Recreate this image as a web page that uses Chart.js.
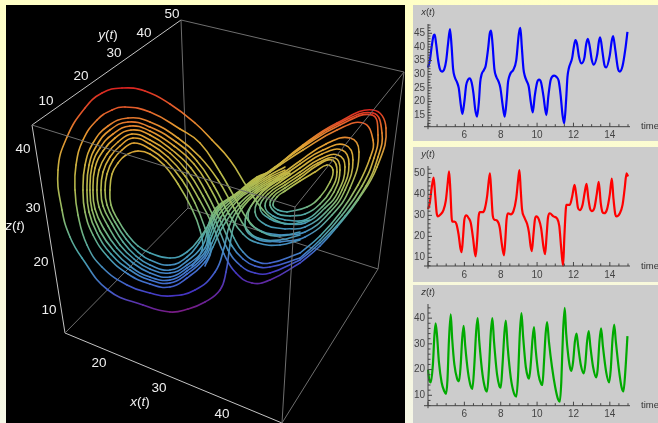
<!DOCTYPE html>
<html>
<head>
<meta charset="utf-8">
<title>Lorenz attractor</title>
<script src="https://cdn.jsdelivr.net/npm/chart.js@4/dist/chart.umd.min.js"></script>
<style>
html, body { margin: 0; padding: 0; width: 658px; height: 423px; overflow: hidden; }
body { background: linear-gradient(#ffffc6, #f5f6e6); position: relative; }
.box { position: absolute; }
.box canvas { display: block; }
#attractorBox { left: 6px; top: 5px; width: 399px; height: 418px; background: #000; }
#xBox { left: 413px; top: 5px; width: 245px; height: 136px; background: #ccc; }
#yBox { left: 413px; top: 147px; width: 245px; height: 135px; background: #ccc; }
#zBox { left: 413px; top: 285px; width: 245px; height: 138px; background: #ccc; }
</style>
</head>
<body>
<div class="box" id="attractorBox"><canvas id="attractorChart" width="399" height="418"></canvas></div>
<div class="box" id="xBox"><canvas id="xChart" width="245" height="136"></canvas></div>
<div class="box" id="yBox"><canvas id="yChart" width="245" height="135"></canvas></div>
<div class="box" id="zBox"><canvas id="zChart" width="245" height="138"></canvas></div>
<script>
// time series: [t, value]
var xSeries = [[4,32.5],[4.1,35],[4.2,40],[4.3,44],[4.37,44.5],[4.45,41],[4.55,35.5],[4.65,32],[4.77,31],[4.9,32],[5,35],[5.1,41],[5.21,46.5],[5.3,40],[5.38,32],[5.47,29],[5.6,27],[5.69,25],[5.8,19],[5.89,15.5],[6,20],[6.1,26],[6.2,28],[6.29,28.5],[6.4,27],[6.5,23],[6.6,17],[6.7,14.5],[6.8,20],[6.87,27],[6.95,30],[7.07,31.5],[7.17,33],[7.3,39],[7.4,45],[7.47,46],[7.55,41],[7.65,32],[7.76,29],[7.87,27.5],[7.98,25],[8.1,19],[8.22,14.5],[8.33,21],[8.4,27],[8.46,29],[8.55,30.5],[8.68,31.5],[8.85,35],[9,45],[9.08,47],[9.16,40],[9.25,32],[9.32,29.5],[9.43,27.5],[9.54,25.5],[9.65,20],[9.76,16],[9.87,22],[10,27],[10.11,28],[10.22,27],[10.35,22],[10.51,15],[10.62,22],[10.75,28],[10.94,29.5],[11.07,29],[11.19,27.5],[11.3,22],[11.4,15],[11.49,12],[11.6,21],[11.67,29],[11.74,32],[11.93,36],[12.02,40],[12.11,42.5],[12.2,41],[12.3,36.5],[12.44,34],[12.6,36],[12.7,41],[12.79,43],[12.9,40],[13,35.5],[13.12,33.5],[13.3,37],[13.4,42],[13.47,43.5],[13.6,38],[13.7,33.5],[13.8,32.5],[14,37],[14.1,42],[14.18,44],[14.3,39],[14.45,32],[14.55,31],[14.7,33],[14.85,39],[14.97,45.5]];
var ySeries = [[4,33],[4.1,36],[4.2,43],[4.31,48],[4.4,39],[4.48,31],[4.55,29.5],[4.7,30.5],[4.85,32.5],[4.98,37],[5.08,45],[5.16,51],[5.23,42],[5.3,29],[5.34,27],[5.45,27],[5.56,26],[5.68,21],[5.78,14.5],[5.85,12.5],[5.93,20],[6,28],[6.11,30],[6.25,28.5],[6.35,26.5],[6.48,19],[6.56,13],[6.62,10.5],[6.7,18],[6.78,29],[6.84,31.5],[7,31.5],[7.12,33],[7.25,39],[7.35,47],[7.41,50],[7.48,41],[7.56,30],[7.65,28],[7.8,27.5],[7.95,24],[8.05,17],[8.18,11],[8.25,18],[8.32,28],[8.4,31],[8.55,30.5],[8.7,32],[8.85,38],[8.97,48],[9.03,51.5],[9.1,42],[9.17,33],[9.3,29],[9.45,26],[9.55,22],[9.65,15],[9.71,13],[9.8,21],[9.88,28],[9.96,29.5],[10.1,28],[10.22,24],[10.35,15],[10.44,11.5],[10.52,20],[10.6,29],[10.7,31],[10.9,29.5],[11.1,28.5],[11.22,25],[11.32,15],[11.43,6],[11.5,20],[11.58,33],[11.61,35],[11.8,35],[11.93,39],[12.06,44.5],[12.15,40],[12.25,33.5],[12.35,32.5],[12.5,35],[12.62,41],[12.72,45],[12.82,38],[12.92,33],[13,32],[13.15,33.5],[13.28,40],[13.39,46],[13.5,36],[13.6,31.5],[13.69,31],[13.85,33],[14,40],[14.11,47.5],[14.2,38],[14.3,30.5],[14.37,29.5],[14.55,31],[14.7,35],[14.82,43],[14.92,50],[15,48.5]];
var zSeries = [[4,20],[4.07,16],[4.15,15],[4.27,22],[4.35,33],[4.42,38],[4.5,33],[4.6,23],[4.75,15],[4.9,11.5],[4.99,10.5],[5.07,16],[5.15,31],[5.25,41.5],[5.33,32],[5.45,22],[5.6,16.5],[5.71,15.5],[5.8,22],[5.88,32],[5.96,37],[6.05,29],[6.2,19],[6.35,13.5],[6.44,12.5],[6.55,22],[6.65,35],[6.73,40],[6.82,31],[7,18],[7.15,12.5],[7.25,11.5],[7.35,20],[7.45,34],[7.54,40],[7.63,31],[7.8,18],[7.93,13.5],[8,13],[8.1,22],[8.2,34],[8.28,39],[8.38,29],[8.55,17],[8.72,11],[8.86,9.5],[8.95,17],[9.05,34],[9.14,42],[9.23,33],[9.38,21],[9.5,17],[9.56,16.5],[9.65,22],[9.75,32],[9.83,36.5],[9.92,28],[10.08,18],[10.22,14.5],[10.29,14],[10.38,23],[10.47,34],[10.55,38.5],[10.65,31],[10.82,21],[11,13],[11.15,8.5],[11.25,7.5],[11.33,15],[11.43,35],[11.52,44],[11.6,34],[11.72,25],[11.82,20.5],[11.89,19.5],[11.98,23],[12.08,31],[12.17,34],[12.26,29],[12.4,22],[12.57,18.5],[12.65,22],[12.75,31],[12.84,35],[12.93,29],[13.08,21],[13.25,17],[13.33,20],[13.43,31],[13.52,36],[13.62,29],[13.8,19],[13.96,15],[14.05,20],[14.15,32],[14.24,37.5],[14.33,31],[14.5,20],[14.65,13],[14.75,11.5],[14.85,19],[14.97,33]];

var timeTicks = [6, 8, 10, 12, 14];
var xTicks = [15, 20, 25, 30, 35, 40, 45];
var yTicks = [10, 20, 30, 40, 50];
var zTicks = [10, 20, 30, 40];

// the 3D view in the projected plane: [across, down, z(t)]
var leftLoop1 = [[290,175,29],[270,185,27],[257,193,26],[243,207,23],[234,225,19],[230,245,15],[226,272,10],[220,290,8],[205,302,7.5],[188,309,7],[170,312,7],[143,305,8],[108,290,11],[82,258,16],[70,237,19],[62,210,24],[58,170,30],[67,137,37],[85,108,42],[102,93,44],[122,88,45],[145,91,44],[170,104,41],[195,123,38],[212,140,35],[230,160,31],[247,187,26],[263,210,21],[277,221,18],[290,224,16],[310,220,17]];
var leftLoop2 = [[290,173,29],[270,183,27],[257,191,26],[241,206,23],[230,224,19],[224,248,14],[215,272,11],[195,290,9],[170,296,9],[150,293,9.5],[127,285,11],[102,267,14],[87,245,18],[78,215,23],[75,190,27],[76,165,31],[83,140,36],[97,120,39],[112,110,41],[125,107,41],[150,112,40],[180,129,36],[200,143,33],[220,172,28],[235,198,25],[248,220,21],[262,232,18],[280,236,15],[300,232,15]];
var leftLoop3 = [[290,171,30],[270,181,28],[257,189,26],[240,203,23],[222,228,18],[213,247,15],[205,262,12.5],[187,278,11],[170,287,11],[150,284,11.5],[128,274,13],[108,257,16],[93,235,20],[85,212,24],[83,190,27],[85,165,31],[93,143,35],[108,126,38],[128,118,39],[150,122,38],[178,138,35],[200,157,32],[218,180,28],[234,208,24],[246,228,19],[258,238,15.5],[280,240,14.5],[300,235,15]];
var leftLoop4 = [[285,172,30],[270,179,28],[257,187,26],[238,200,24],[222,222,19],[212,243,15],[205,258,13],[187,274,11.5],[170,283,11.5],[150,280,12],[130,270,14],[111,254,16],[97,233,20],[89,212,24],[87,190,27],[89,165,31],[97,145,35],[110,130,37],[128,122,39],[150,127,38],[176,142,35],[197,161,31],[214,186,27],[229,214,22],[243,234,17],[258,243,14.5],[280,245,14],[300,240,14.5]];
var leftLoop5 = [[285,170,31],[270,177,29],[257,185,27],[238,198,24],[221,217,20],[211,238,16],[205,255,13.5],[187,271,12],[170,280,12],[150,277,12.5],[131,267,14],[114,251,17],[100,231,21],[92,210,24],[90,190,27],[92,166,31],[100,148,34],[113,134,37],[130,126,38],[150,131,37],[174,146,34],[194,164,31],[210,188,27],[224,216,22],[234,238,17],[243,252,14],[255,261,12],[270,263,11],[300,253,13]];
var leftLoop6 = [[285,167,31],[270,175,29],[257,183,27],[238,196,24],[220,213,21],[210,235,16],[205,252,14],[187,268,12.5],[170,277,12.5],[150,273,13],[133,263,14.5],[117,248,17],[104,229,21],[95,209,24],[93,190,27],[95,168,31],[103,151,33],[115,138,36],[131,130,37],[150,135,36],[172,150,33],[191,168,30],[206,192,26],[220,220,21],[232,246,15],[243,259,12],[255,266,11],[270,267,10],[300,258,12]];
var leftLoop7 = [[280,165,31],[257,181.5,27],[237,195,25],[219,210,21],[209,232,17],[205,248,14.5],[187,265,13],[170,273,13],[150,269,13.5],[134,259,15],[120,245,18],[108,226,21],[99,207,24],[97,190,27],[99,170,30],[107,154,33],[118,142,35],[132,134,36],[150,140,35],[170,153,33],[188,172,29],[203,196,25],[216,222,20],[228,250,14],[241,266,11],[255,273,9.5],[270,273,9],[300,260,11]];
var leftLoop8 = [[275,167,30],[257,180,28],[237,194,25],[218,208,22],[208,230,18],[203,245,15],[187,261,14],[170,270,13.5],[150,265,14],[136,256,15.5],[123,242,18],[112,224,21],[103,206,24],[101,190,27],[103,172,30],[110,157,33],[120,146,35],[133,138,36],[150,144,35],[168,157,32],[185,176,29],[199,199,25],[212,224,20],[224,254,13],[236,273,9],[252,283,8],[270,280,8],[300,263,10]];
var leftLoop9 = [[272,170,30],[257,178.5,28],[237,193.5,25],[216,208,22],[207,228,18],[199,243,15.5],[187,257,14.5],[170,265,14],[150,260,15],[138,252,16],[126,239,18],[115,222,21],[107,205,24],[105,190,27],[107,174,30],[113,160,32],[122,150,34],[134,143,35],[150,149,34],[166,161,32],[182,180,28],[195,203,24],[205,228,19],[211,250,14],[205,266,12]];
var leftLoop10 = [[270,172,29],[257,177,28],[237,193,26],[223,203,24],[213,217,22],[202,235,18],[187,252,15.5],[170,258,15.5],[150,253,16],[138,246,17.5],[127,234,19],[118,220,22],[111,205,24],[110,190,27],[112,174,30],[118,163,32],[126,155,33],[138,151,34],[150,154,33],[164,165,31],[178,184,28],[191,207,23],[200,230,19],[202,250,15],[192,266,12.5]];

var rightLoop1 = [[287,212,17],[307,207,20],[320,197,23],[330,182,26],[333,170,28],[327,165,30],[315,172,30],[300,181,28],[285,191,25],[277,197,24],[273,205,19],[278,210,17],[287,212,17]];
var rightLoop2 = [[290,216,16.5],[305,214,17],[320,204,21],[331,190,24],[337,172,29],[332,160,31],[318,165,31],[300,178,29],[285,188,26],[274,196,24],[270,205,19],[278,214,17],[290,216,16.5]];
var rightLoop3 = [[285,220,15.5],[305,220,16],[322,207,20],[334,192,24],[340,170,29],[335,158,32],[318,163,32],[300,175,30],[285,185,27],[272,194,25],[265,206,19],[273,216,16],[285,220,15.5]];
var rightLoop4 = [[285,224,15],[305,223,15],[325,208,20],[338,192,24],[345,167,30],[338,155,33],[320,159,33],[300,172,30],[285,182,28],[268,194,25],[260,208,19],[270,219,16],[285,224,15]];
var rightLoop5 = [[285,229,14.5],[305,227,14.5],[328,210,20],[342,190,25],[349,164,31],[342,150,35],[322,154,34],[300,168,31],[280,182,28],[263,195,25],[255,212,19],[266,225,15.5],[285,229,14.5]];
var rightLoop6 = [[280,235,14],[305,232,14],[330,212,20],[345,190,25],[353,160,32],[345,145,36],[323,150,35],[300,164,32],[278,180,28],[258,197,25],[248,218,19],[261,231,15],[280,235,14]];
var rightLoop7 = [[280,242,13.5],[305,237,13.5],[332,215,19],[350,188,25],[359,152,33],[350,138,38],[326,144,36],[300,161,33],[275,180,28],[255,200,24],[245,225,18],[257,239,14.5],[280,242,13.5]];
var rightLoop8 = [[300,253,13],[320,236,16],[340,213,20],[358,185,26],[370,158,33],[373,140,37],[363,123,41],[337,130,39],[303,150,34],[280,165,31]];
var rightLoop9 = [[300,258,12],[320,240,15],[342,215,19],[362,186,25],[374,158,33],[378,135,38],[372,115,43],[340,125,40],[303,147,35],[275,167,30]];
var rightLoop10 = [[300,260,11],[320,243,14],[345,216,18],[366,186,25],[378,157,33],[382,133,38],[373,113,44],[338,124,41],[303,146,36],[272,170,30]];
var rightLoop11 = [[300,263,10],[320,246,12.5],[337,227,15],[358,200,21],[377,167,30],[386,128,39],[373,110,45],[337,123,42],[303,145,36],[270,172,29]];

var strands = [leftLoop1, leftLoop2, leftLoop3, leftLoop4, leftLoop5, leftLoop6, leftLoop7, leftLoop8, leftLoop9, leftLoop10,
    rightLoop1, rightLoop2, rightLoop3, rightLoop4, rightLoop5, rightLoop6, rightLoop7, rightLoop8, rightLoop9, rightLoop10, rightLoop11];

// corners of the box in the same plane
var cornerA = [32,125], cornerB = [181,20], cornerC = [404,72], cornerD = [65,333];
var cornerE = [282,423], cornerF = [378,269], cornerG = [188,208], cornerH = [295,207];
var brightEdges = [[cornerD, cornerA, cornerB], [cornerD, cornerE]];
var dimEdges = [[cornerB, cornerC, cornerF, cornerE], [cornerB, cornerG, cornerF], [cornerG, cornerD]];
var frontEdges = [[cornerA, cornerH, cornerC], [cornerH, cornerE]];

var rainbow = ['#781c86', '#4535c4', '#4176cf', '#48a3ae', '#7fba72', '#bdbb48', '#e59f30', '#e5582a', '#d92120'];
var rainbowZ = [7, 9, 12, 16, 22, 28, 36, 41, 45];

// labels of the 3D box
var boxTicks = [['10',46,101],['20',81,76],['30',114,53],['40',144,33],['50',172,14],
    ['40',23,149],['30',33,208],['20',41,262],['10',49,310],
    ['20',99,363],['30',159,388],['40',222,414]];
var boxNames = [['y','t',108,35],['z','t',15,226],['x','t',140,402]];

function rainbowAt(z) {
    var i = 0;
    z = Math.max(rainbowZ[0], Math.min(rainbowZ[rainbowZ.length - 1], z));
    while (i < rainbowZ.length - 2 && z > rainbowZ[i + 1]) i++;
    var f = (z - rainbowZ[i]) / (rainbowZ[i + 1] - rainbowZ[i]);
    return Chart.helpers.color(rainbow[i]).mix(Chart.helpers.color(rainbow[i + 1]), 1 - f).rgbString();
}

// writes x(t) with the letters slanted and the brackets upright
function drawName(ctx, letter, t, x, y, size, color) {
    var parts = [[letter, true], ['(', false], [t, true], [')', false]];
    var width = 0;
    ctx.fillStyle = color;
    ctx.textBaseline = 'middle';
    ctx.textAlign = 'left';
    parts.forEach(function (p) {
        ctx.font = (p[1] ? 'italic ' : '') + size + 'px "Liberation Sans"';
        width += ctx.measureText(p[0]).width;
    });
    var left = x - width / 2;
    parts.forEach(function (p) {
        ctx.font = (p[1] ? 'italic ' : '') + size + 'px "Liberation Sans"';
        ctx.fillText(p[0], left, y);
        left += ctx.measureText(p[0]).width;
    });
}

var boxLabels = {
    id: 'boxLabels',
    afterDraw: function (chart) {
        var ctx = chart.ctx, sx = chart.scales.x, sy = chart.scales.y;
        ctx.save();
        ctx.fillStyle = '#f0f0f0';
        ctx.font = '13.5px "Liberation Sans"';
        ctx.textAlign = 'center';
        ctx.textBaseline = 'middle';
        boxTicks.forEach(function (t) {
            ctx.fillText(t[0], sx.getPixelForValue(t[1]), sy.getPixelForValue(t[2]));
        });
        boxNames.forEach(function (n) {
            drawName(ctx, n[0], n[1], sx.getPixelForValue(n[2]), sy.getPixelForValue(n[3]), 13.5, '#f0f0f0');
        });
        ctx.restore();
    }
};

function edgeDataset(points, color, order) {
    return {
        data: points.map(function (p) { return { x: p[0], y: p[1] }; }),
        showLine: true, borderColor: color, borderWidth: 1, pointRadius: 0, tension: 0, order: order
    };
}

var attractorSets = [];
frontEdges.forEach(function (e) { attractorSets.push(edgeDataset(e, '#6e6e6e', 0)); });
strands.forEach(function (s) {
    attractorSets.push({
        data: s.map(function (p) { return { x: p[0], y: p[1], z: p[2] }; }),
        showLine: true, borderWidth: 1.6, pointRadius: 0, tension: 0.45, order: 1,
        borderCapStyle: 'round', borderColor: '#888',
        segment: {
            borderColor: function (c) {
                var rows = c.chart.data.datasets[c.datasetIndex].data;
                var g = c.chart.ctx.createLinearGradient(c.p0.x, c.p0.y, c.p1.x, c.p1.y);
                g.addColorStop(0, rainbowAt(rows[c.p0DataIndex].z));
                g.addColorStop(1, rainbowAt(rows[c.p1DataIndex].z));
                return g;
            }
        }
    });
});
dimEdges.forEach(function (e) { attractorSets.push(edgeDataset(e, '#6e6e6e', 2)); });
brightEdges.forEach(function (e) { attractorSets.push(edgeDataset(e, '#c4c4c4', 2)); });

new Chart(document.getElementById('attractorChart'), {
    type: 'scatter',
    data: { datasets: attractorSets },
    options: {
        responsive: false,
        animation: false,
        layout: { padding: 0 },
        plugins: { legend: { display: false }, tooltip: { enabled: false } },
        scales: {
            x: { display: false, min: 6, max: 405 },
            y: { display: false, min: 5, max: 423, reverse: true }
        }
    },
    plugins: [boxLabels]
});

// draws the axis lines and the small inward ticks of a time plot
var inwardAxes = {
    id: 'inwardAxes',
    afterDraw: function (chart) {
        var ctx = chart.ctx, sx = chart.scales.x, sy = chart.scales.y;
        var o = chart.options.plugins.inwardAxes;
        var ax = sx.getPixelForValue(4), ay = chart.chartArea.bottom, i, p, len;
        ctx.save();
        ctx.strokeStyle = '#444';
        ctx.lineWidth = 1;
        ctx.beginPath();
        ctx.moveTo(ax - 4, ay); ctx.lineTo(sx.getPixelForValue(15) + 2, ay);
        ctx.moveTo(ax, ay + 2.5); ctx.lineTo(ax, chart.chartArea.top);
        for (i = 4; i <= 15; i += 0.5) {
            p = sx.getPixelForValue(i);
            len = i % 2 === 0 ? 4 : 2.5;
            ctx.moveTo(p, ay); ctx.lineTo(p, ay - len);
        }
        for (i = o.first; i <= o.last; i += o.minor) {
            p = sy.getPixelForValue(i);
            len = i % o.major === 0 ? 4 : 2.5;
            ctx.moveTo(ax, p); ctx.lineTo(ax + len, p);
        }
        ctx.stroke();
        drawName(ctx, o.letter, 't', ax, 7, 9.5, '#333');
        ctx.fillStyle = '#333';
        ctx.font = '9.5px "Liberation Sans"';
        ctx.textAlign = 'left';
        ctx.textBaseline = 'middle';
        ctx.fillText('time', 228, ay);
        ctx.restore();
    }
};

function timeChart(id, letter, series, color, ticks, low, high, top, scaleHeight, minor, major, first, last) {
    new Chart(document.getElementById(id), {
        type: 'scatter',
        data: {
            datasets: [{
                data: series.map(function (p) { return { x: p[0], y: p[1] }; }),
                showLine: true, borderColor: color, borderWidth: 2.2, pointRadius: 0,
                cubicInterpolationMode: 'monotone', clip: false
            }]
        },
        options: {
            responsive: false,
            animation: false,
            layout: { padding: { left: 0, right: 30, top: top, bottom: 0 } },
            plugins: {
                legend: { display: false }, tooltip: { enabled: false },
                inwardAxes: { letter: letter, minor: minor, major: major, first: first, last: last }
            },
            scales: {
                x: {
                    min: 4, max: 15,
                    grid: { display: false, drawTicks: false }, border: { display: false },
                    afterBuildTicks: function (s) { s.ticks = timeTicks.map(function (v) { return { value: v }; }); },
                    afterFit: function (s) { s.height = scaleHeight; },
                    ticks: { color: '#444', font: { family: 'Liberation Sans', size: 10 }, padding: 3, maxRotation: 0, autoSkip: false }
                },
                y: {
                    min: low, max: high,
                    grid: { display: false, drawTicks: false }, border: { display: false },
                    afterBuildTicks: function (s) { s.ticks = ticks.map(function (v) { return { value: v }; }); },
                    afterFit: function (s) { s.width = 15; },
                    ticks: { color: '#444', font: { family: 'Liberation Sans', size: 10 }, padding: 3, autoSkip: false }
                }
            }
        },
        plugins: [inwardAxes]
    });
}

timeChart('xChart', 'x', xSeries, '#0000ff', xTicks, 10.8, 48.4, 19, 14.3, 1, 5, 11, 48);
timeChart('yChart', 'y', ySeries, '#ff0000', yTicks, 5.9, 53.5, 19, 16, 2, 10, 6, 52);
timeChart('zChart', 'z', zSeries, '#00aa00', zTicks, 5.95, 45.5, 19, 17.3, 2, 10, 6, 44);
</script>
</body>
</html>
